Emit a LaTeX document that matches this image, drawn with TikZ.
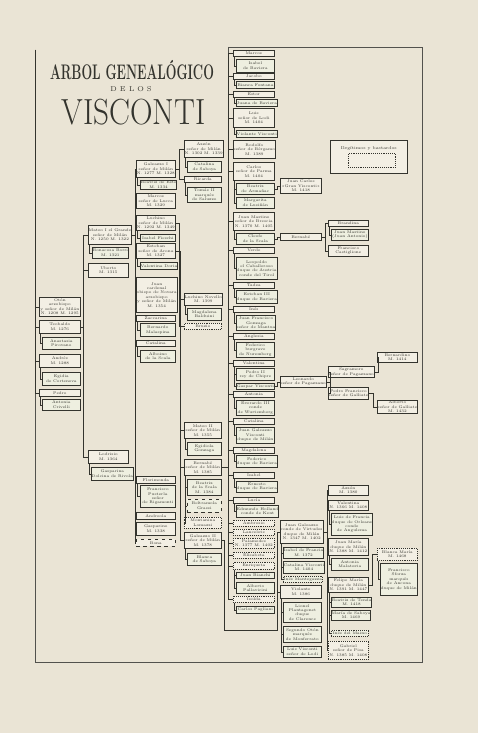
\documentclass[tikz,border=0pt]{standalone}
\usepackage{fontspec}
\usepackage{tikz}
\usetikzlibrary{positioning}
\definecolor{page}{HTML}{EAE4D5}
\definecolor{cell}{HTML}{F3EFE4}
\definecolor{cellb}{HTML}{EEEFE0}
\definecolor{ink}{HTML}{34342E}

\begin{document}
\begin{tikzpicture}[
    x=0.3mm, y=-0.3mm,
    bw/.style={minimum width=#1*0.3mm},
    bh/.style={minimum height=#1*0.3mm},
    person/.style={
      draw=ink,
      fill=cell,
      line width=0.6pt,
      anchor=north west,
      inner sep=0.3pt,
      align=center,
      text=ink,
      font=\fontsize{3.3}{3.75}\selectfont
    },
    spouse/.style={person, fill=cellb},
    natural/.style={person, densely dotted},
    link/.style={draw=ink, line width=0.45pt},
    frameline/.style={draw=ink!85, line width=0.5pt}
  ]
    \fill[page] (0,0) rectangle (478,733);
    \useasboundingbox (0,0) rectangle (478,733);

    % title
    \node[text=ink, font=\fontsize{18}{18}\selectfont] (title) at (132,70.5)
      {\scalebox{0.6}[1]{\bfseries ARBOL GENEALÓGICO}};
    \node[text=ink, font=\fontsize{6}{6}\selectfont] (titlede) at (131,89.5) {D E\enspace L O S};
    \node[text=ink, font=\fontsize{31}{31}\selectfont] (titlename) at (133.5,112.5)
      {\scalebox{0.86}[1]{VISCONTI}};

    % frame
    \coordinate (rootline) at (35,50);
    \draw[frameline] (228,47) -- (422,47) -- (422,662) -- (35,662) -- (rootline);
    \draw[frameline] (228,47) -- (228,53);

    % legend
    \node[draw=ink, fill=cell, line width=0.6pt, anchor=north west, bw=77, bh=33] (legend) at (330,140) {};
    \node[text=ink, font=\fontsize{3.6}{4}\selectfont, below=0.7mm of legend.north] (legendtext) {Ilegítimos y bastardos};
    \node[draw=ink, densely dotted, line width=0.6pt, anchor=north west, bw=47, bh=14] (legendmark) at (348,153) {};

    % first generations
    \node[person, bw=41, bh=19] (oton) at (39,297) {Otón\\arzobispo\\y señor de Milán\\N. 1208 M. 1295};
    \node[person, bw=41, bh=13] (teob) at (39,320) {Teobaldo\\M. 1276};
    \node[spouse, bw=38, bh=12] (anast) at (42,337) {Anastasia\\Pirovano};
    \node[person, bw=41, bh=13] (andr) at (39,354) {Andrés\\M. 1288};
    \node[spouse, bw=38, bh=13] (egid) at (42,372) {Egidia\\de Cortenova};
    \node[person, bw=41, bh=7] (pedro) at (39,389) {Pedro};
    \node[spouse, bw=38, bh=11] (anton) at (42,399) {Antonia\\Crivelli};

    \node[person, bw=40, bh=19] (mat1) at (88,225) {Mateo I el Grande\\señor de Milán\\N. 1250 M. 1322};
    \node[spouse, bw=36, bh=11] (bonac) at (92,247) {Bonacosa Borri\\M. 1321};
    \node[person, bw=40, bh=14] (uberto) at (88,263) {Uberto\\M. 1315};
    \node[person, bw=40, bh=13] (lodr) at (88,450) {Lodrisio\\M. 1364};
    \node[spouse, bw=37, bh=13] (dolc) at (91,467) {Gasparina\\Dolcina de Rivola};

    % children of Mateo I
    \node[person, bw=39, bh=17] (gal1) at (136,160) {Galeazzo I\\señor de Milán\\N. 1277 M. 1328};
    \node[spouse, bw=35, bh=9] (beae) at (140,180) {Beatriz de Este\\M. 1334};
    \node[person, bw=39, bh=15] (marc) at (136,193) {Marcos\\señor de Lucca\\M. 1329};
    \node[person, bw=39, bh=15] (luch) at (136,215) {Luchino\\señor de Milán\\N. 1292 M. 1349};
    \node[spouse, bw=35, bh=7] (isaf) at (140,234) {Isabel Fieschi};
    \node[person, bw=39, bh=15] (este) at (136,243) {Esteban\\señor de Arona\\M. 1327};
    \node[spouse, bw=35, bh=7] (vald) at (140,262) {Valentina Doria};
    \node[person, bw=39, bh=35] (juan) at (136,277) {Juan\\cardenal\\obispo de Novara\\arzobispo\\y señor de Milán\\M. 1354};
    \node[person, bw=39, bh=6] (zacc) at (136,315) {Zaccarina};
    \node[spouse, bw=35, bh=13] (berm) at (140,323) {Bernardo\\Malaspina};
    \node[person, bw=39, bh=6] (cata) at (136,340) {Catalina};
    \node[spouse, bw=35, bh=12] (albo) at (140,350) {Alboino\\de la Scala};
    \node[person, bw=39, bh=7] (flor) at (136,476) {Florimonda};
    \node[spouse, bw=35, bh=22] (fpus) at (140,485) {Francisco\\Pusterla\\señor\\de Rigamonti};
    \node[person, bw=39, bh=7] (andre) at (136,512) {Andreola};
    \node[person, bw=39, bh=13] (gasp) at (136,522) {Gasparino\\M. 1338};
    \node[person, dashed, bw=39, bh=7] (bona) at (136,539) {Bona};

    % grandchildren
    \node[person, bw=37, bh=17] (azz) at (184,140) {Azzón\\señor de Milán\\N. 1302 M. 1339};
    \node[spouse, bw=34, bh=11] (cats) at (187,161) {Catalina\\de Saboya};
    \node[person, bw=37, bh=6] (ric) at (184,176) {Ricarda};
    \node[spouse, bw=34, bh=15] (tom) at (187,187) {Tomás II\\marqués\\de Saluzzo};
    \node[person, bw=37, bh=12] (lnov) at (184,293) {Luchino Novello\\M. 1399};
    \node[spouse, bw=34, bh=12] (magb) at (187,308) {Magdalena\\Balduini};
    \node[natural, bw=37, bh=6] (bruz) at (184,323) {Bruzio};
    \node[person, bw=37, bh=16] (mat2) at (184,422) {Mateo II\\señor de Milán\\M. 1355};
    \node[spouse, bw=34, bh=13] (egi) at (187,442) {Egidiola\\Gonzaga};
    \node[person, bw=37, bh=16] (bern) at (184,459) {Bernabé\\señor de Milán\\M. 1385};
    \node[spouse, bw=34, bh=16] (beas) at (187,479) {Beatriz\\de la Scala\\M. 1384};
    \node[spouse, dashed, bw=34, bh=13] (belt) at (187,499) {Beltramola\\Grassi};
    \node[natural, bw=37, bh=11] (mont) at (184,517) {Montanina\\Lomazzi};
    \node[person, bw=37, bh=16] (gal2) at (184,532) {Galeazzo II\\señor de Milán\\M. 1378};
    \node[spouse, bw=34, bh=12] (blan) at (187,553) {Blanca\\de Saboya};

    % children of Bernabe
    \node[person, bw=41, bh=6] (e1) at (233,50) {Marcos};
    \node[spouse, bw=38, bh=13] (e2) at (236,59) {Isabel\\de Baviera};
    \node[person, bw=41, bh=6] (e3) at (233,73) {Jacobo};
    \node[spouse, bw=38, bh=7] (e4) at (236,81) {Bianca Fontana};
    \node[person, bw=41, bh=6] (e5) at (233,91) {Estor};
    \node[spouse, bw=38, bh=7] (e6) at (236,99) {Juana de Baviera};
    \node[person, bw=41, bh=19] (e7) at (233,108) {Luis\\señor de Lodi\\M. 1404};
    \node[spouse, bw=38, bh=7] (e8) at (236,130) {Violante Visconti};
    \node[person, bw=41, bh=18] (e9) at (233,140) {Rodolfo\\señor de Bérgamo\\M. 1389};
    \node[person, bw=41, bh=18] (e10) at (233,162) {Carlos\\señor de Parma\\M. 1404};
    \node[spouse, bw=38, bh=11] (e11) at (236,183) {Beatriz\\de Armañac};
    \node[spouse, bw=38, bh=11] (e12) at (236,197) {Margarita\\de Lusiñán};
    \node[person, bw=41, bh=18] (e13) at (233,212) {Juan Mastino\\señor de Brescia\\N. 1370 M. 1405};
    \node[spouse, bw=38, bh=11] (e14) at (236,233) {Cleofe\\de la Scala};
    \node[person, bw=41, bh=6] (e15) at (233,247) {Verde};
    \node[spouse, bw=38, bh=22] (e16) at (236,257) {Leopoldo\\el Caballeroso\\duque de Austria\\conde del Tirol};
    \node[person, bw=41, bh=6] (e17) at (233,282) {Tadea};
    \node[spouse, bw=38, bh=13] (e18) at (236,290) {Esteban III\\duque de Baviera};
    \node[person, bw=41, bh=6] (e19) at (233,306) {Inés};
    \node[spouse, bw=38, bh=15] (e20) at (236,315) {Juan Francisco\\Gonzaga\\señor de Mantua};
    \node[person, bw=41, bh=6] (e21) at (233,333) {Anglesia};
    \node[spouse, bw=38, bh=15] (e22) at (236,342) {Federico\\burgrave\\de Nuremberg};
    \node[person, bw=41, bh=6] (e23) at (233,360) {Valentina};
    \node[spouse, bw=38, bh=12] (e24) at (236,368) {Pedro II\\rey de Chipre};
    \node[spouse, bw=38, bh=6] (e25) at (236,383) {Gaspar Visconti};
    \node[person, bw=41, bh=6] (e26) at (233,391) {Antonia};
    \node[spouse, bw=38, bh=15] (e27) at (236,400) {Everardo III\\conde\\de Wurtemberg};
    \node[person, bw=41, bh=6] (e28) at (233,418) {Catalina};
    \node[spouse, bw=38, bh=16] (e29) at (236,427) {Juan Galeazzo\\Visconti\\duque de Milán};
    \node[person, bw=41, bh=6] (e30) at (233,447) {Magdalena};
    \node[spouse, bw=38, bh=12] (e31) at (236,455) {Federico\\duque de Baviera};
    \node[person, bw=41, bh=6] (e32) at (233,472) {Isabel};
    \node[spouse, bw=38, bh=11] (e33) at (236,481) {Ernesto\\duque de Baviera};
    \node[person, bw=41, bh=6] (e34) at (233,497) {Lucía};
    \node[spouse, bw=38, bh=12] (e35) at (236,505) {Edmundo Holland\\conde de Kent};
    \node[natural, bw=41, bh=6] (e36) at (233,520) {Ambrosio};
    \node[natural, bw=41, bh=6] (e37) at (233,529) {Lancelote};
    \node[natural, bw=41, bh=10] (e38) at (233,538) {Palamedes\\N. 1377 M. 1402};
    \node[natural, bw=41, bh=6] (e39) at (233,552) {Elisabeta};
    \node[natural, bw=41, bh=7] (e40) at (233,562) {Enriqueta};
    \node[spouse, bw=38, bh=6] (e41) at (236,572) {Juan Bianchi};
    \node[spouse, bw=38, bh=11] (e42) at (236,582) {Alberto\\Pallavicini};
    \node[natural, bw=41, bh=6] (e43) at (233,596) {Isolda};
    \node[spouse, bw=38, bh=7] (e44) at (236,606) {Carlos Pagliani};

    % further lines
    \node[person, bw=41, bh=15] (jcar) at (280,178) {Juan Carlos\\«Gran Visconti»\\M. 1418};
    \node[person, bw=41, bh=7] (bnb) at (280,233) {Bernabé};
    \node[person, bw=40, bh=6] (bran) at (328,220) {Brandina};
    \node[spouse, bw=37, bh=11] (jmas) at (331,229) {Juan Mastino\\(Juan Antonio)};
    \node[person, bw=40, bh=11] (fcas) at (328,245) {Francisco\\Castiglione};
    \node[person, bw=41, bh=11] (leon) at (280,376) {Leonardo\\señor de Pagazzano};
    \node[person, bw=40, bh=11] (sagr) at (328,366) {Sagramoro\\señor de Pagazzano};
    \node[person, bw=40, bh=12] (pfra) at (328,387) {Pedro Francisco\\señor de Galliate};
    \node[person, bw=40, bh=10] (bdino) at (377,352) {Bernardino\\M. 1414};
    \node[person, bw=40, bh=13] (albg) at (377,400) {Alberto\\señor de Galliate\\M. 1432};

    % children of Galeazzo II
    \coordinate (galturn) at (277,630);
    \node[person, bw=41, bh=23] (jgal) at (280,520) {Juan Galeazzo\\conde de Virtudes\\duque de Milán\\N. 1347 M. 1402};
    \node[spouse, bw=38, bh=11] (isfr) at (283,547) {Isabel de Francia\\M. 1372};
    \node[spouse, bw=38, bh=12] (catv) at (283,561) {Catalina Visconti\\M. 1404};
    \node[spouse, densely dotted, bw=38, bh=6] (inem) at (283,576) {Inés Mantegazza};
    \node[person, bw=41, bh=13] (viol) at (280,585) {Violante\\M. 1386};
    \node[spouse, bw=38, bh=20] (lion) at (283,602) {Lionel\\Plantagenet\\duque\\de Clarence};
    \node[spouse, bw=38, bh=16] (segs) at (283,626) {Segundo Otón\\marqués\\de Monferrato};
    \node[spouse, bw=38, bh=11] (luvi) at (283,646) {Luis Visconti\\señor de Lodi};

    \node[person, bw=40, bh=10] (azz2) at (328,485) {Azzón\\M. 1380};
    \node[person, bw=40, bh=10] (valo) at (328,500) {Valentina\\N. 1366 M. 1408};
    \node[spouse, bw=37, bh=22] (luif) at (331,513) {Luis de Francia\\duque de Orleans\\conde\\de Angulema};
    \node[person, bw=40, bh=17] (jmar) at (328,538) {Juan María\\duque de Milán\\N. 1388 M. 1412};
    \node[spouse, bw=37, bh=12] (antm) at (331,558) {Antonia\\Malatesta};
    \node[person, bw=40, bh=15] (fmar) at (328,577) {Felipe María\\duque de Milán\\N. 1391 M. 1447};
    \node[spouse, bw=37, bh=10] (beal) at (331,597) {Beatriz de Tenda\\M. 1418};
    \node[spouse, bw=37, bh=10] (mars) at (331,610) {María de Saboya\\M. 1469};
    \node[spouse, densely dotted, bw=37, bh=6] (inma) at (331,630) {Inés del Maino};
    \node[natural, bw=40, bh=18] (gabr) at (328,641) {Gabriel\\señor de Pisa\\N. 1385 M. 1408};

    \node[natural, bw=40, bh=12] (blmr) at (377,548) {Blanca María\\M. 1468};
    \node[spouse, bw=37, bh=32] (fsfz) at (380,563) {Francisco\\Sforza\\marqués\\de Ancona\\duque de Milán};

    % first generations: links
    \draw[link] (rootline) |- (oton.west);
    \draw[link] (rootline) |- (teob.west);
    \draw[link] (rootline) |- (andr.west);
    \draw[link] (rootline) |- (pedro.west);
    \draw[link] ([xshift=0.5mm]teob.south west) |- (anast.west);
    \draw[link] ([xshift=0.5mm]andr.south west) |- (egid.west);
    \draw[link] ([xshift=0.5mm]pedro.south west) |- (anton.west);
    \draw[link] (teob.east) -- ++(3,0) |- (mat1.west);
    \draw[link] (teob.east) -- ++(3,0) |- (uberto.west);
    \draw[link] (teob.east) -- ++(3,0) |- (lodr.west);
    \draw[link] ([xshift=0.5mm]mat1.south west) |- (bonac.west);
    \draw[link] ([xshift=0.5mm]lodr.south west) |- (dolc.west);

    % children of Mateo I: links
    \draw[link] (mat1.east) -- ++(3,0) |- (gal1.west);
    \draw[link] (mat1.east) -- ++(3,0) |- (marc.west);
    \draw[link] (mat1.east) -- ++(3,0) |- (luch.west);
    \draw[link] (mat1.east) -- ++(3,0) |- (este.west);
    \draw[link] (mat1.east) -- ++(3,0) |- (juan.west);
    \draw[link] (mat1.east) -- ++(3,0) |- (zacc.west);
    \draw[link] (mat1.east) -- ++(3,0) |- (cata.west);
    \draw[link] (mat1.east) -- ++(3,0) |- (flor.west);
    \draw[link] (mat1.east) -- ++(3,0) |- (andre.west);
    \draw[link] (mat1.east) -- ++(3,0) |- (gasp.west);
    \draw[link] (mat1.east) -- ++(3,0) |- (bona.west);
    \draw[link] ([xshift=0.5mm]gal1.south west) |- (beae.west);
    \draw[link] ([xshift=0.5mm]luch.south west) |- (isaf.west);
    \draw[link] ([xshift=0.5mm]este.south west) |- (vald.west);
    \draw[link] ([xshift=0.5mm]zacc.south west) |- (berm.west);
    \draw[link] ([xshift=0.5mm]cata.south west) |- (albo.west);
    \draw[link] ([xshift=0.5mm]flor.south west) |- (fpus.west);

    % grandchildren: links
    \draw[link] (gal1.east) -- ++(4,0) |- (azz.west);
    \draw[link] (gal1.east) -- ++(4,0) |- (ric.west);
    \draw[link] ([xshift=0.5mm]azz.south west) |- (cats.west);
    \draw[link] ([xshift=0.5mm]ric.south west) |- (tom.west);
    \draw[link] (luch.east) -- ++(4,0) |- (lnov.west);
    \draw[link] (luch.east) -- ++(4,0) |- (bruz.west);
    \draw[link] ([xshift=0.5mm]lnov.south west) |- (magb.west);
    \draw[link] (este.east) -- ++(5,0) |- (mat2.west);
    \draw[link] (este.east) -- ++(5,0) |- (bern.west);
    \draw[link] (este.east) -- ++(5,0) |- (gal2.west);
    \draw[link] ([xshift=0.5mm]mat2.south west) |- (egi.west);
    \draw[link] ([xshift=0.5mm]bern.south west) |- (beas.west);
    \draw[link] ([xshift=0.5mm]bern.south west) |- (belt.west);
    \draw[link] ([xshift=0.5mm]bern.south west) |- (mont.west);
    \draw[link] ([xshift=0.5mm]gal2.south west) |- (blan.west);

    % children of Bernabe: links
    \draw[link] (bern.east) -- ++(7,0) |- (e1.west);
    \draw[link] (bern.east) -- ++(7,0) |- (e3.west);
    \draw[link] (bern.east) -- ++(7,0) |- (e5.west);
    \draw[link] (bern.east) -- ++(7,0) |- (e7.west);
    \draw[link] (bern.east) -- ++(7,0) |- (e9.west);
    \draw[link] (bern.east) -- ++(7,0) |- (e10.west);
    \draw[link] (bern.east) -- ++(7,0) |- (e13.west);
    \draw[link] (bern.east) -- ++(7,0) |- (e15.west);
    \draw[link] (bern.east) -- ++(7,0) |- (e17.west);
    \draw[link] (bern.east) -- ++(7,0) |- (e19.west);
    \draw[link] (bern.east) -- ++(7,0) |- (e21.west);
    \draw[link] (bern.east) -- ++(7,0) |- (e23.west);
    \draw[link] (bern.east) -- ++(7,0) |- (e26.west);
    \draw[link] (bern.east) -- ++(7,0) |- (e28.west);
    \draw[link] (bern.east) -- ++(7,0) |- (e30.west);
    \draw[link] (bern.east) -- ++(7,0) |- (e32.west);
    \draw[link] (bern.east) -- ++(7,0) |- (e34.west);
    \draw[link] (bern.east) -- ++(7,0) |- (e36.west);
    \draw[link] (bern.east) -- ++(7,0) |- (e37.west);
    \draw[link] (bern.east) -- ++(7,0) |- (e38.west);
    \draw[link] (bern.east) -- ++(7,0) |- (e39.west);
    \draw[link] (bern.east) -- ++(7,0) |- (e40.west);
    \draw[link] (bern.east) -- ++(7,0) |- (e43.west);
    \draw[link] ([xshift=0.5mm]e1.south west) |- (e2.west);
    \draw[link] ([xshift=0.5mm]e3.south west) |- (e4.west);
    \draw[link] ([xshift=0.5mm]e5.south west) |- (e6.west);
    \draw[link] ([xshift=0.5mm]e7.south west) |- (e8.west);
    \draw[link] ([xshift=0.5mm]e10.south west) |- (e11.west);
    \draw[link] ([xshift=0.5mm]e10.south west) |- (e12.west);
    \draw[link] ([xshift=0.5mm]e13.south west) |- (e14.west);
    \draw[link] ([xshift=0.5mm]e15.south west) |- (e16.west);
    \draw[link] ([xshift=0.5mm]e17.south west) |- (e18.west);
    \draw[link] ([xshift=0.5mm]e19.south west) |- (e20.west);
    \draw[link] ([xshift=0.5mm]e21.south west) |- (e22.west);
    \draw[link] ([xshift=0.5mm]e23.south west) |- (e24.west);
    \draw[link] ([xshift=0.5mm]e23.south west) |- (e25.west);
    \draw[link] ([xshift=0.5mm]e26.south west) |- (e27.west);
    \draw[link] ([xshift=0.5mm]e28.south west) |- (e29.west);
    \draw[link] ([xshift=0.5mm]e30.south west) |- (e31.west);
    \draw[link] ([xshift=0.5mm]e32.south west) |- (e33.west);
    \draw[link] ([xshift=0.5mm]e34.south west) |- (e35.west);
    \draw[link] ([xshift=0.5mm]e40.south west) |- (e41.west);
    \draw[link] ([xshift=0.5mm]e40.south west) |- (e42.west);
    \draw[link] ([xshift=0.5mm]e43.south west) |- (e44.west);

    % further lines: links
    \draw[link] (e11.east) -- ++(3,0) |- (jcar.west);
    \draw[link] (e14.east) -- ++(3,0) |- (bnb.west);
    \draw[link] (bnb.east) -- ++(4,0) |- (bran.west);
    \draw[link] (bnb.east) -- ++(4,0) |- (fcas.west);
    \draw[link] ([xshift=0.5mm]bran.south west) |- (jmas.west);
    \draw[link] (e25.east) -- ++(3,0) |- (leon.west);
    \draw[link] (leon.east) -- ++(4,0) |- (sagr.west);
    \draw[link] (leon.east) -- ++(4,0) |- (pfra.west);
    \draw[link] (sagr.east) -- ++(4,0) |- (bdino.west);
    \draw[link] (pfra.east) -- ++(4,0) |- (albg.west);

    % children of Galeazzo II: links
    \draw[link] (gal2.east) -- ++(3,0) |- (galturn) |- (jgal.west);
    \draw[link] (galturn) |- (viol.west);
    \draw[link] ([xshift=0.5mm]jgal.south west) |- (isfr.west);
    \draw[link] ([xshift=0.5mm]jgal.south west) |- (catv.west);
    \draw[link] ([xshift=0.5mm]jgal.south west) |- (inem.west);
    \draw[link] ([xshift=0.5mm]viol.south west) |- (lion.west);
    \draw[link] ([xshift=0.5mm]viol.south west) |- (segs.west);
    \draw[link] ([xshift=0.5mm]viol.south west) |- (luvi.west);
    \draw[link] (jgal.east) -- ++(4,0) |- (azz2.west);
    \draw[link] (jgal.east) -- ++(4,0) |- (valo.west);
    \draw[link] (jgal.east) -- ++(4,0) |- (jmar.west);
    \draw[link] (jgal.east) -- ++(4,0) |- (fmar.west);
    \draw[link] (jgal.east) -- ++(4,0) |- (gabr.west);
    \draw[link] ([xshift=0.5mm]valo.south west) |- (luif.west);
    \draw[link] ([xshift=0.5mm]jmar.south west) |- (antm.west);
    \draw[link] ([xshift=0.5mm]fmar.south west) |- (beal.west);
    \draw[link] ([xshift=0.5mm]fmar.south west) |- (mars.west);
    \draw[link] ([xshift=0.5mm]fmar.south west) |- (inma.west);
    \draw[link] (fmar.east) -- ++(4,0) |- (blmr.west);
    \draw[link] ([xshift=0.5mm]blmr.south west) |- (fsfz.west);
  \end{tikzpicture}
\end{document}
